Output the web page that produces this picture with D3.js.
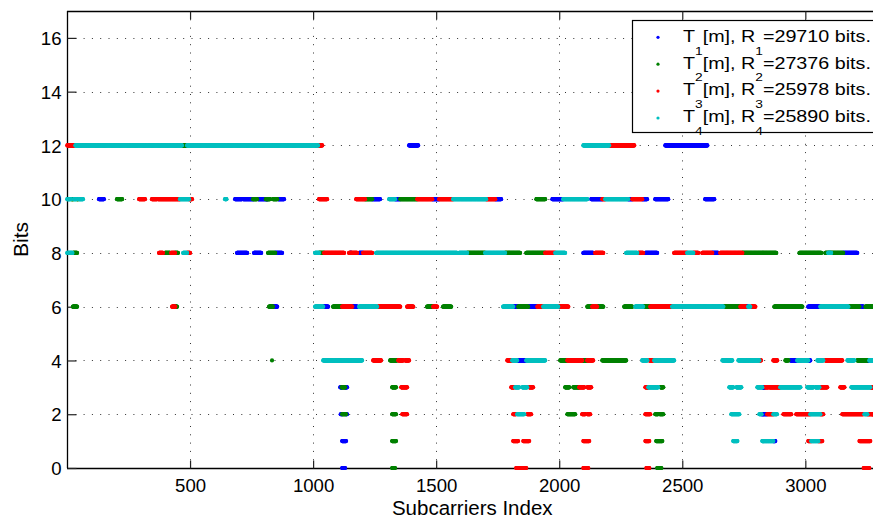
<!DOCTYPE html>
<html>
<head>
<meta charset="utf-8">
<script src="https://cdn.jsdelivr.net/npm/d3@7"></script>
<style>
  html, body { margin: 0; padding: 0; background: #fff; }
  svg { display: block; font-family: "Liberation Sans", Arial, sans-serif; }
</style>
</head>
<body>
<svg id="chart" width="873" height="519"></svg>
<script>
// ---------- data (runs of consecutive subcarriers: [startIndex, endIndex, bits]) ----------
const xTicks = [500, 1000, 1500, 2000, 2500, 3000];
const yTicks = [0, 2, 4, 6, 8, 10, 12, 14, 16];
const seriesLabels = ["1", "2", "3", "4"];
const rates = [29710, 27376, 25978, 25890];
const colors = ["#0000ff", "#008000", "#ff0000", "#00bfbf"];

const T1 = [
  [1390,1427,12],[2431,2602,12],
  [130,150,10],[683,711,10],[716,757,10],[776,817,10],[857,882,10],[1240,1272,10],[1333,1354,10],
  [1484,1512,10],[1740,1764,10],[1972,2016,10],[2130,2175,10],[2280,2297,10],[2337,2357,10],
  [2390,2443,10],[2593,2630,10],
  [691,732,8],[760,789,8],[846,874,8],[1187,1203,8],[1150,1156,8],[2098,2138,8],[2350,2398,8],
  [2622,2646,8],[3154,3211,8],
  [837,854,6],[1041,1061,6],[1159,1179,6],[1813,1833,6],[1874,1911,6],[2760,2768,6],[3012,3061,6],[3220,3236,6],
  [1829,1866,4],[2939,2980,4],[3012,3020,4],[3252,3258,4],
  [1110,1116,3],[1130,1138,3],[2825,2837,3],
  [1112,1118,2],[1134,1138,2],[2822,2845,2],
  [1118,1134,1],[2870,2878,1],
  [1118,1130,0]
];
const T2 = [
  [467,488,12],
  [18,26,10],[40,46,10],[203,224,10],[756,772,10],[808,825,10],[837,854,10],[1211,1240,10],
  [1354,1423,10],[1907,1943,10],
  [24,41,8],[398,419,8],[439,451,8],[817,846,8],[1024,1045,8],[1626,1699,8],[1780,1841,8],
  [1866,1943,8],[2744,2882,8],[2976,3065,8],[3081,3154,8],
  [24,41,6],[435,447,6],[821,837,6],[1081,1118,6],[1463,1488,6],[1528,1561,6],[1833,1874,6],
  [2114,2134,6],[2154,2179,6],[2264,2297,6],[2341,2370,6],[2667,2736,6],[2874,2988,6],
  [3175,3220,6],[3244,3276,6],
  [833,833,4],[1313,1341,4],[2004,2033,4],[2093,2114,4],[2175,2272,4],[2919,2931,4],[3211,3252,4],
  [1116,1130,3],[1321,1337,3],[2024,2041,3],[2057,2081,3],[2411,2423,3],
  [1118,1134,2],[1321,1337,2],[2033,2065,2],[2390,2402,2],[2408,2423,2],
  [1321,1337,1],[2394,2419,1],
  [1321,1333,0],[2398,2415,0]
];
const T3 = [
  [1,30,12],[1012,1037,12],[2203,2305,12],
  [293,317,10],[345,366,10],[370,459,10],[496,508,10],[1024,1057,10],[1175,1211,10],[1423,1484,10],
  [1512,1569,10],[1703,1740,10],[2175,2187,10],[2297,2337,10],
  [374,390,8],[423,439,8],[488,500,8],[1045,1126,8],[1146,1179,8],[1203,1240,8],[1943,1984,8],
  [2146,2179,8],[2321,2341,8],[2467,2520,8],[2545,2565,8],[2581,2622,8],[2654,2744,8],
  [427,440,6],[1118,1159,6],[1264,1354,6],[1382,1407,6],[1488,1504,6],[1911,1935,6],[1996,2037,6],
  [2134,2154,6],[2370,2459,6],[2736,2760,6],[2780,2797,6],
  [1244,1276,4],[1346,1366,4],[1374,1390,4],[1789,1809,4],[2033,2093,4],[2114,2138,4],[2366,2382,4],
  [2813,2820,4],[2870,2886,4],[3081,3150,4],
  [1358,1382,3],[1805,1817,3],[1878,1894,3],[2081,2102,3],[2114,2130,3],[2350,2362,3],[2837,2850,3],
  [2854,2898,3],[3061,3089,3],[3142,3159,3],[3264,3276,3],
  [1362,1382,2],[1813,1825,2],[1870,1886,2],[2093,2106,2],[2114,2126,2],[2350,2370,2],[2845,2870,2],
  [2911,2943,2],[2963,3020,2],[3061,3073,2],[3150,3236,2],[3252,3276,2],
  [1813,1833,1],[1854,1878,1],[2098,2122,1],[2350,2366,1],[3012,3024,1],[3053,3069,1],[3220,3264,1],
  [1825,1866,0],[2098,2118,0],[2354,2366,0],[3237,3260,0]
];
const T4 = [
  [34,467,12],[488,1020,12],[2098,2203,12],
  [1,15,10],[28,38,10],[48,65,10],[459,496,10],[642,648,10],[1309,1333,10],[1569,1703,10],
  [2016,2114,10],[2187,2280,10],
  [1,22,8],[472,488,8],[1008,1024,8],[1256,1585,8],[1593,1626,8],[1699,1780,8],[1984,2024,8],
  [2272,2317,8],[2520,2545,8],[3093,3105,8],
  [1008,1041,6],[1187,1260,6],[1772,1813,6],[1935,1996,6],[2309,2341,6],[2459,2667,6],[2768,2776,6],
  [3061,3175,6],
  [1041,1199,4],[1809,1829,4],[1866,1943,4],[2337,2358,4],[2386,2467,4],[2663,2703,4],[2728,2813,4],
  [2967,3012,4],[3049,3073,4],[3171,3199,4],[3260,3276,4],
  [1821,1837,3],[1850,1870,3],[2362,2402,3],[2691,2707,3],[2720,2740,3],[2805,2825,3],[2898,2980,3],
  [3008,3033,3],[3041,3057,3],[3187,3264,3],
  [1829,1858,2],[2699,2732,2],[2813,2822,2],[2870,2885,2],[3020,3061,2],[3240,3252,2],
  [2707,2724,1],[2825,2870,1],[3024,3053,1]
];
const seriesRuns = [T1, T2, T3, T4];

// ---------- layout ----------
const svg = d3.select("#chart");
const pL = 67, pT = 11, pB = 468, pR = 873.5;
const x = d3.scaleLinear().domain([1, 3277]).range([pL + 0.25, pR]);
const y = d3.scaleLinear().domain([0, 17]).range([pB, pT]);

// grid
const grid = svg.append("g");
grid.selectAll("line.gx").data(xTicks).join("line")
  .attr("x1", d => Math.round(x(d)) + 0.5).attr("x2", d => Math.round(x(d)) + 0.5)
  .attr("y1", pT).attr("y2", pB)
  .attr("stroke", "#333").attr("stroke-width", 1).attr("stroke-dasharray", "1,7.3");
grid.selectAll("line.gy").data(yTicks.filter(d => d > 0)).join("line")
  .attr("y1", d => Math.round(y(d)) + 0.5).attr("y2", d => Math.round(y(d)) + 0.5)
  .attr("x1", pL).attr("x2", pR)
  .attr("stroke", "#333").attr("stroke-width", 1).attr("stroke-dasharray", "1,7.3");

// axes (d3 axes, ticks inside)
const fs = 18.6;
const xAxis = svg.append("g").attr("transform", `translate(0,${pB + 0.5})`)
  .call(d3.axisBottom(x).tickValues(xTicks).tickFormat(d3.format("d"))
    .tickSizeInner(-8).tickSizeOuter(0).tickPadding(10));
const xAxisTop = svg.append("g").attr("transform", `translate(0,${pT + 0.5})`)
  .call(d3.axisTop(x).tickValues(xTicks).tickSizeInner(-8).tickSizeOuter(0).tickFormat(""));
const yAxis = svg.append("g").attr("transform", `translate(${pL + 0.5},0)`)
  .call(d3.axisLeft(y).tickValues(yTicks).tickSizeInner(-9).tickSizeOuter(0).tickPadding(6));
[xAxis, xAxisTop, yAxis].forEach(g => {
  g.select(".domain").attr("stroke", "#000").attr("stroke-width", 1.3);
  g.selectAll(".tick line").attr("stroke", "#222").attr("stroke-width", 1.2);
  g.selectAll(".tick text").attr("font-size", fs).attr("fill", "#000")
    .attr("font-family", "Liberation Sans, Arial, sans-serif");
});
xAxis.select(".domain").attr("d", `M${pL},0H${pR + 2}`);
xAxisTop.select(".domain").attr("d", `M${pL},0H${pR + 2}`);
yAxis.select(".domain").attr("d", `M0,${pT}V${pB}`);
yAxis.selectAll(".tick text").attr("dy", "0.36em");

// data points: every subcarrier in each run is one marker
const plot = svg.append("g");
seriesRuns.forEach((runs, si) => {
  const pts = [];
  runs.forEach(([a, b, v]) => { for (let i = a; i <= b; i++) pts.push([i, v]); });
  plot.append("g").selectAll("circle").data(pts).join("circle")
    .attr("cx", d => x(d[0])).attr("cy", d => y(d[1]))
    .attr("r", 2.1).attr("fill", colors[si]);
});

// axis labels
svg.append("text").attr("x", (pL + pR) / 2 + 2).attr("y", 515)
  .attr("text-anchor", "middle").attr("font-size", 20.5).text("Subcarriers Index");
svg.append("text").attr("transform", `translate(28,${(pT + pB) / 2}) rotate(-90)`)
  .attr("text-anchor", "middle").attr("font-size", 21).text("Bits");

// legend
const lg = svg.append("g");
lg.append("rect").attr("x", 632.5).attr("y", 20.5).attr("width", 260).attr("height", 112)
  .attr("fill", "#fff").attr("stroke", "#000").attr("stroke-width", 1.2);
seriesLabels.forEach((s, k) => {
  const cy = 37.3 + k * 26.9;
  lg.append("circle").attr("cx", 658).attr("cy", cy).attr("r", 1.6).attr("fill", colors[k]);
  const g = lg.append("g");
  const t = g.append("text").attr("x", 0).attr("y", 0).attr("font-size", 16.5);
  t.append("tspan").text("T");
  t.append("tspan").attr("font-size", 11.5).attr("dy", 13).text(s);
  t.append("tspan").attr("dy", -13).text("[m], R");
  t.append("tspan").attr("font-size", 11.5).attr("dy", 13).text(s);
  t.append("tspan").attr("dy", -13).text("=" + rates[k] + " bits.");
  const w = t.node().getBBox().width;
  g.attr("transform", `translate(683,${cy + 4.3}) scale(${188 / w},1)`);
});
</script>
</body>
</html>
